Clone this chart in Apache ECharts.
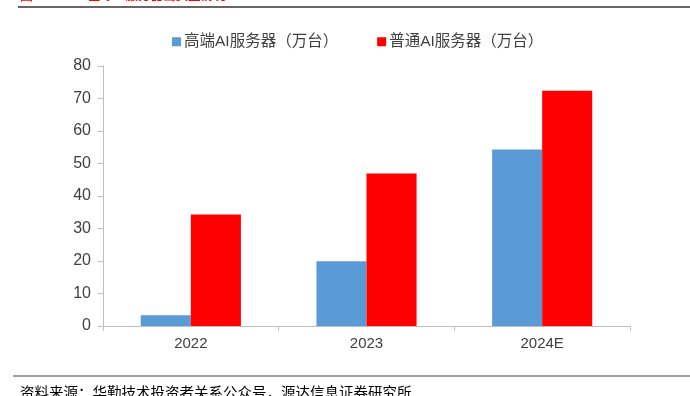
<!DOCTYPE html>
<html><head><meta charset="utf-8">
<script src="https://cdn.jsdelivr.net/npm/echarts@6/dist/echarts.min.js"></script>
<style>html,body{margin:0;padding:0;background:#fff}#c{width:690px;height:396px}</style>
</head><body><div id="c"></div>
<script>
const categories = ['2022', '2023', '2024E'];
const seriesNames = ['高端AI服务器（万台）', '普通AI服务器（万台）'];
const highEnd = [3.3, 19.9, 54.3];
const normal = [34.3, 46.9, 72.4];
const yTicks = [0, 10, 20, 30, 40, 50, 60, 70, 80];
const colors = ['#5B9BD5', '#FF0000'];
const font = '"Liberation Sans", "Noto Sans CJK SC", sans-serif';

const chart = echarts.init(document.getElementById('c'), null, {renderer: 'canvas'});
chart.setOption({
  animation: false,
  backgroundColor: '#fff',
  textStyle: {fontFamily: font},
  legend: {
    top: 34, left: 172, padding: 0,
    itemWidth: 9, itemHeight: 9, itemGap: 39,
    icon: 'rect',
    textStyle: {fontSize: 15.5, color: '#404040', fontFamily: font, padding: [0, 0, 0, -2]},
    data: seriesNames
  },
  grid: {left: 103, right: 60, top: 66, bottom: 70, containLabel: false},
  xAxis: {
    type: 'category', data: categories,
    axisLine: {lineStyle: {color: '#BFBFBF', width: 1}},
    axisTick: {show: true, alignWithLabel: false, length: 5, lineStyle: {color: '#BFBFBF'}},
    axisLabel: {fontSize: 15, color: '#404040', margin: 10, fontFamily: font}
  },
  yAxis: {
    type: 'value', min: yTicks[0], max: yTicks[yTicks.length - 1], interval: 10,
    axisLine: {show: true, lineStyle: {color: '#BFBFBF'}},
    axisTick: {show: true, length: 5, lineStyle: {color: '#BFBFBF'}},
    splitLine: {show: false},
    axisLabel: {fontSize: 16, color: '#404040', margin: 12, fontFamily: font}
  },
  series: [
    {name: seriesNames[0], type: 'bar', data: highEnd, barWidth: '28.5%', barGap: '0%',
     itemStyle: {color: colors[0]}},
    {name: seriesNames[1], type: 'bar', data: normal, barWidth: '28.5%', barGap: '0%',
     itemStyle: {color: colors[1]}}
  ],
  graphic: [
    {type: 'text', left: 20, top: -10, style: {text: '图', fill: '#FF0000', fontSize: 13, fontFamily: font}},
    {type: 'text', left: 88, top: -10, style: {text: '全球AI服务器出货量情况', fill: '#FF0000', fontSize: 12.5, fontWeight: 'bold', fontFamily: font}},
    {type: 'line', shape: {x1: 18, y1: 7, x2: 690, y2: 7}, style: {stroke: '#333', lineWidth: 1.5}},
    {type: 'line', shape: {x1: 13, y1: 376, x2: 690, y2: 376}, style: {stroke: '#444', lineWidth: 1.2}},
    {type: 'text', left: 20, top: 387, style: {text: '资料来源：华勤技术投资者关系公众号，源达信息证券研究所', fill: '#000', fontSize: 14.5, fontFamily: font}}
  ]
});
</script></body></html>
